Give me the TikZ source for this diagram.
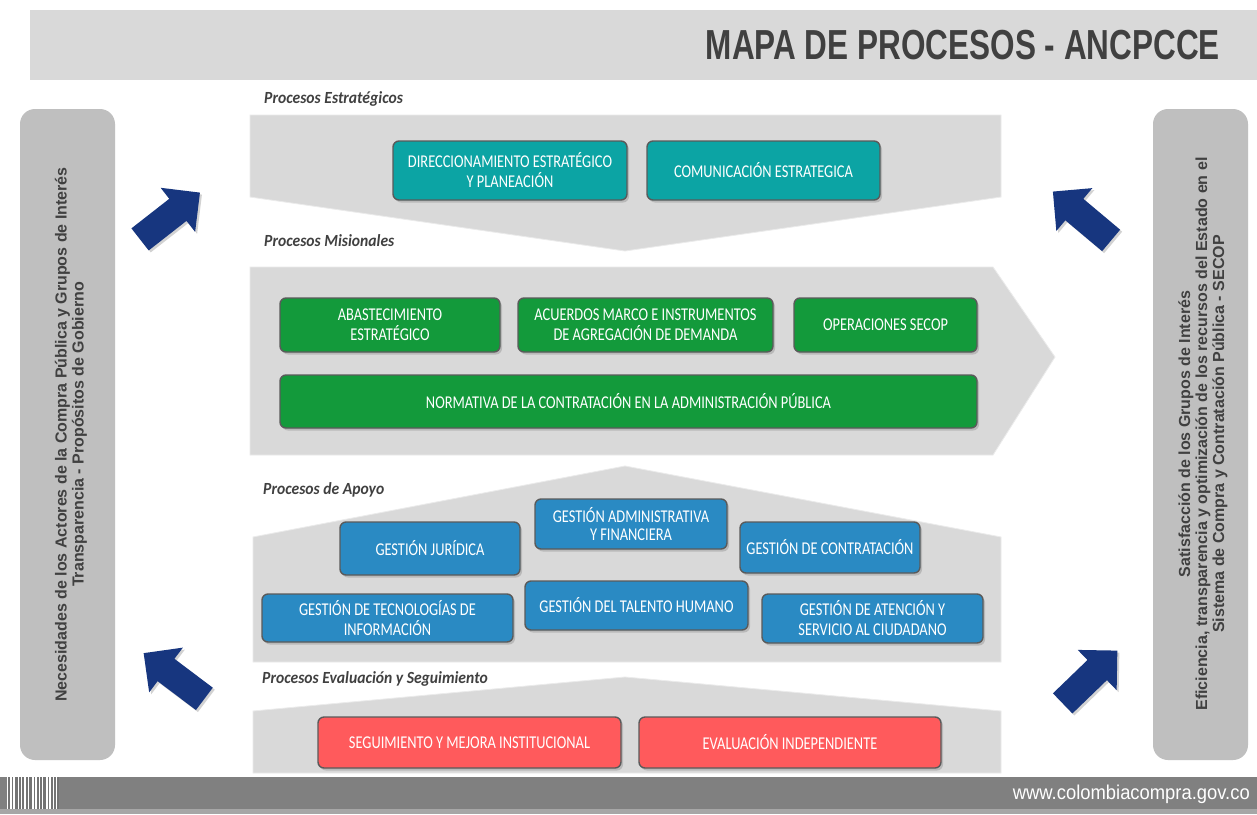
\documentclass[tikz,border=0pt]{standalone}
\usepackage{fontspec}
\setmainfont{Liberation Sans}
\newfontfamily\titlefont[FakeStretch=0.75]{Liberation Sans}
\newfontfamily\boxfam[FakeStretch=0.8]{Carlito}
\newfontfamily\labfam[FakeStretch=0.92]{Carlito}
\newfontfamily\webfam[FakeStretch=0.92]{Liberation Sans}
\usetikzlibrary{shadows}
\definecolor{hdr}{HTML}{D9D9D9}
\definecolor{band}{HTML}{D9D9D9}
\definecolor{side}{HTML}{BFBFBF}
\definecolor{txtgray}{HTML}{404040}
\definecolor{cteal}{HTML}{0CA4A4}
\definecolor{cgreen}{HTML}{139A3B}
\definecolor{cblue}{HTML}{2A8AC3}
\definecolor{cred}{HTML}{FF5A5C}
\definecolor{navy}{HTML}{17367F}
\definecolor{foot}{HTML}{808080}
\definecolor{footline}{HTML}{A6A6A6}
\definecolor{boxline}{HTML}{5A5A5A}
\newcommand\bluearrow[2]{%
  \begin{scope}[shift={#1}, rotate=#2]
    \fill[navy, drop shadow={shadow xshift=2pt, shadow yshift=-2pt, opacity=0.35}]
      (-38,-14) -- (10,-14) -- (10,-28) -- (38,0) -- (10,28) -- (10,14) -- (-38,14) -- cycle;
  \end{scope}}
\tikzset{
  procbox/.style={rectangle, rounded corners=6pt, draw=boxline, line width=1.4pt,
    text=white, align=center, inner sep=0pt,
    font=\boxfam\fontsize{18}{20}\selectfont,
    drop shadow={shadow xshift=2pt, shadow yshift=-2.5pt, opacity=0.35}},
  tealbox/.style={procbox, fill=cteal},
  greenbox/.style={procbox, fill=cgreen},
  bluebox/.style={procbox, fill=cblue},
  redbox/.style={procbox, fill=cred},
  bandshape/.style={fill=band, draw=white!92!black, line width=0.8pt},
  seclabel/.style={anchor=west, inner sep=0pt, text=txtgray,
    font=\labfam\bfseries\itshape\fontsize{17}{19}\selectfont},
  sidebar/.style={rectangle, rounded corners=15pt, fill=side, inner sep=0pt},
  sidetext/.style={rotate=90, align=center, text=txtgray, inner sep=0pt,
    font=\bfseries\fontsize{16}{17}\selectfont},
}
\begin{document}
\begin{tikzpicture}[x=1pt, y=-1pt]
\useasboundingbox (0,0) rectangle (1257,814);
\fill[white] (0,0) rectangle (1257,814);
% header
\fill[hdr] (30,10) rectangle (1257,80);
\node[anchor=east, inner sep=0pt, text=txtgray, font=\titlefont\bfseries\fontsize{42}{44}\selectfont] (title) at (1220,45) {MAPA DE PROCESOS - ANCPCCE};
% side bars
\node[sidebar, minimum width=95pt, minimum height=651pt] (lbar) at (67.5,434.5) {};
\node[sidebar, minimum width=95pt, minimum height=651pt] (rbar) at (1200.5,434.5) {};
\node[sidetext] (ltext) at (71,434.5) {Necesidades de los Actores de la Compra Pública y Grupos de Interés\\Transparencia - Propósitos de Gobierno};
\node[sidetext] (rtext) at (1203,434) {Satisfacción de los Grupos de Interés\\Eficiencia, transparencia y optimización de los recursos del Estado en el\\Sistema de Compra y Contratación Pública - SECOP};
% band shapes
\path[bandshape] (250,115) -- (1001,115) -- (1001,197) -- (625,251) -- (250,197) -- cycle;
\path[bandshape] (250,267) -- (993,267) -- (1055,357) -- (993,455) -- (250,455) -- cycle;
\path[bandshape] (253,537) -- (625,466) -- (1001,537) -- (1001,662) -- (253,662) -- cycle;
\path[bandshape] (253,711) -- (625,677) -- (1001,711) -- (1001,773) -- (253,773) -- cycle;
% section labels
\node[seclabel] (lest) at (264,99) {Procesos Estratégicos};
\node[seclabel] (lmis) at (264,241) {Procesos Misionales};
\node[seclabel] (lapo) at (263,490) {Procesos de Apoyo};
\node[seclabel] (leva) at (262,679) {Procesos Evaluación y Seguimiento};
% strategic
\node[tealbox, minimum width=234pt, minimum height=59pt] (d1) at (510,170.5) {DIRECCIONAMIENTO ESTRATÉGICO\\Y PLANEACIÓN};
\node[tealbox, minimum width=233pt, minimum height=59pt] (d2) at (763.5,170.5) {COMUNICACIÓN ESTRATEGICA};
% misional
\node[greenbox, minimum width=220pt, minimum height=54pt] (m1) at (390,325) {ABASTECIMIENTO\\ESTRATÉGICO};
\node[greenbox, minimum width=255pt, minimum height=54pt] (m2) at (645.5,325) {ACUERDOS MARCO E INSTRUMENTOS\\DE AGREGACIÓN DE DEMANDA};
\node[greenbox, minimum width=183pt, minimum height=54pt] (m3) at (885.5,325) {OPERACIONES SECOP};
\node[greenbox, minimum width=697pt, minimum height=53pt] (m4) at (628.5,401.5) {NORMATIVA DE LA CONTRATACIÓN EN LA ADMINISTRACIÓN PÚBLICA};
% apoyo
\node[bluebox, minimum width=180pt, minimum height=53pt] (a1) at (430,548.5) {GESTIÓN JURÍDICA};
\node[bluebox, minimum width=192pt, minimum height=50pt, font=\boxfam\fontsize{18}{18}\selectfont] (a2) at (631,524) {GESTIÓN ADMINISTRATIVA\\Y FINANCIERA};
\node[bluebox, minimum width=180pt, minimum height=51pt] (a3) at (830,547.5) {GESTIÓN DE CONTRATACIÓN};
\node[bluebox, minimum width=251pt, minimum height=48pt] (a4) at (387.5,618) {GESTIÓN DE TECNOLOGÍAS DE\\INFORMACIÓN};
\node[bluebox, minimum width=223pt, minimum height=49pt] (a5) at (636.5,605.5) {GESTIÓN DEL TALENTO HUMANO};
\node[bluebox, minimum width=221pt, minimum height=49pt] (a6) at (872.5,618.5) {GESTIÓN DE ATENCIÓN Y\\SERVICIO AL CIUDADANO};
% evaluacion
\node[redbox, minimum width=303pt, minimum height=51pt] (e1) at (469.5,742.5) {SEGUIMIENTO Y MEJORA INSTITUCIONAL};
\node[redbox, minimum width=302pt, minimum height=51pt] (e2) at (790,742.5) {EVALUACIÓN INDEPENDIENTE};
% arrows
\bluearrow{(170,216)}{38}
\bluearrow{(174,676)}{143}
\bluearrow{(1082,216)}{140}
\bluearrow{(1090,677)}{44}
% footer
\fill[foot] (0,777) rectangle (1257,809);
\fill[footline] (0,809) rectangle (1257,814);
\fill[white] (7,777) rectangle (59,809);
\foreach \xa/\wa in {8/2,11.5/1.5,14.5/3,19/1.5,22/2,26/1.5,29/3,33.5/1.5,36.5/2,40/1.5,43/3,47.5/1.5,50.5/2,54/1.5,57/2}
  \fill[foot!90!black] (\xa,777) rectangle ++(\wa,32);
\node[anchor=east, inner sep=0pt, text=white, font=\webfam\fontsize{20}{22}\selectfont] (web) at (1250,794) {www.colombiacompra.gov.co};
\end{tikzpicture}
\end{document}
